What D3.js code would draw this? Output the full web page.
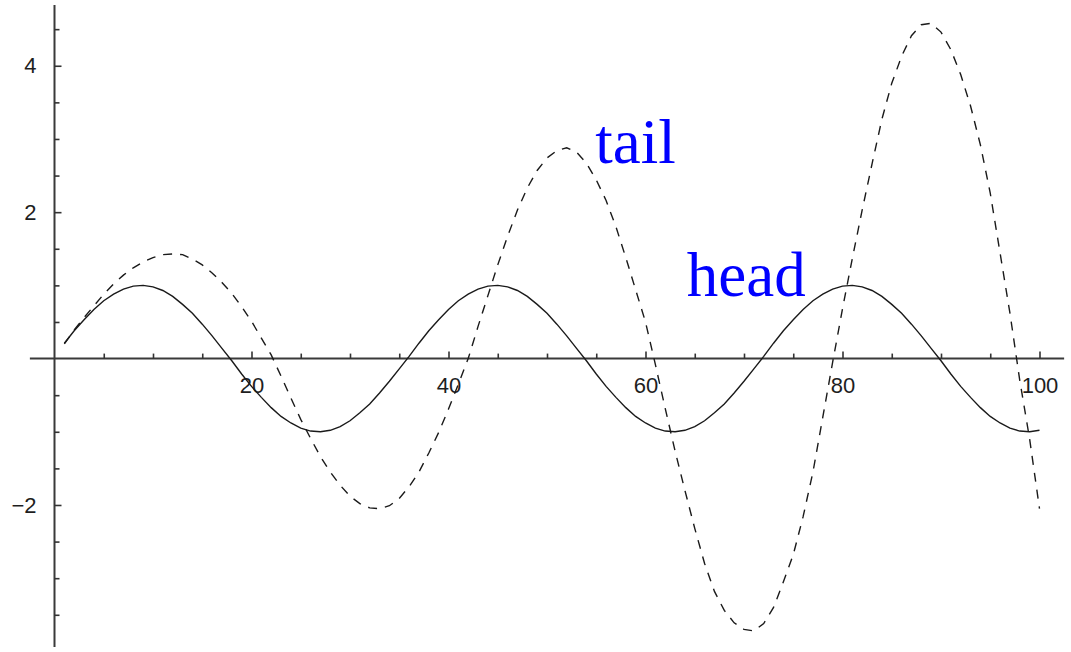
<!DOCTYPE html>
<html>
<head>
<meta charset="utf-8">
<script src="https://d3js.org/d3.v7.min.js"></script>
<style>
    body { margin: 0; background: #fff; }
    .axis text { font-family: "Liberation Sans", Arial, sans-serif; font-size: 22px; fill: #1e1e1e; }
    .axis line { stroke: #333; stroke-width: 1.6; }
    .label { font-family: "Liberation Serif", "Times New Roman", serif; font-size: 63px; fill: #0000ff; }
</style>
</head>
<body>
<div id="chart"></div>
<script>

// x sample positions (1 .. 100)
var xs = d3.range(1, 101);

// solid curve ("head")
var head = [
    0.21, 0.38, 0.53, 0.67, 0.79, 0.88, 0.95, 0.99, 1.00, 0.98, 0.93, 0.85, 0.74, 0.62, 0.47, 0.31, 0.14, -0.03,
    -0.21, -0.38, -0.53, -0.67, -0.79, -0.88, -0.95, -0.99, -1.00, -0.98, -0.93, -0.85, -0.74, -0.62, -0.47, -0.31, -0.14, 0.03,
    0.21, 0.38, 0.53, 0.67, 0.79, 0.88, 0.95, 0.99, 1.00, 0.98, 0.93, 0.85, 0.74, 0.62, 0.47, 0.31, 0.14, -0.03,
    -0.21, -0.38, -0.53, -0.67, -0.79, -0.88, -0.95, -0.99, -1.00, -0.98, -0.93, -0.85, -0.74, -0.62, -0.47, -0.31, -0.14, 0.03,
    0.21, 0.38, 0.53, 0.67, 0.79, 0.88, 0.95, 0.99, 1.00, 0.98, 0.93, 0.85, 0.74, 0.62, 0.47, 0.31, 0.14, -0.03,
    -0.21, -0.38, -0.53, -0.67, -0.79, -0.88, -0.95, -0.99, -1.00, -0.98
];

// dashed curve ("tail")
var tail = [
    0.20, 0.39, 0.56, 0.72, 0.88, 1.02, 1.14, 1.24, 1.32, 1.38,
    1.42, 1.43, 1.42, 1.36, 1.28, 1.17, 1.04, 0.89, 0.71, 0.51,
    0.28, 0.05, -0.24, -0.54, -0.83, -1.09, -1.34, -1.55, -1.73, -1.88,
    -1.98, -2.04, -2.05, -2.01, -1.91, -1.75, -1.55, -1.29, -1.01, -0.69,
    -0.35, 0.00, 0.44, 0.86, 1.28, 1.67, 2.03, 2.33, 2.57, 2.74,
    2.84, 2.88, 2.82, 2.67, 2.44, 2.16, 1.80, 1.38, 0.94, 0.50,
    -0.08, -0.68, -1.26, -1.80, -2.32, -2.80, -3.18, -3.44, -3.61, -3.70,
    -3.72, -3.62, -3.40, -3.05, -2.68, -2.16, -1.55, -0.80, -0.05, 0.68,
    1.37, 2.03, 2.66, 3.27, 3.76, 4.13, 4.41, 4.56, 4.58, 4.46,
    4.22, 3.88, 3.45, 2.92, 2.26, 1.44, 0.62, -0.30, -1.10, -2.05
];

// ticks
var xMajor = [20, 40, 60, 80, 100];
var xMinor = [5, 10, 15, 25, 30, 35, 45, 50, 55, 65, 70, 75, 85, 90, 95];
var yMajor = [-2, 2, 4];
var yMinor = [-3.5, -3, -2.5, -1.5, -1, -0.5, 0.5, 1, 1.5, 2.5, 3, 3.5, 4.5];

// axis extents (data units)
var xExtent = [-2.5, 102.5];
var yExtent = [-3.94, 4.83];

// curve labels
var labelText = ["tail", "head"];
var labelX = [54.9, 64.2];
var labelY = [2.67, 0.85];


LinePlot = function(_parentElement) {
    this.parentElement = _parentElement;
    this.initVis();
};

LinePlot.prototype.initVis = function() {
    var vis = this;

    vis.width = 1071;
    vis.height = 652;

    vis.svg = d3.select("#" + vis.parentElement).append("svg")
        .attr("width", vis.width)
        .attr("height", vis.height)
        .style("display", "block");

    vis.x = d3.scaleLinear()
        .domain([0, 100])
        .range([54.5, 1039.5]);

    vis.y = d3.scaleLinear()
        .domain(yExtent)
        .range([647, 5]);

    // axis lines
    vis.svg.append("line")
        .attr("x1", vis.x(xExtent[0]))
        .attr("x2", vis.x(xExtent[1]))
        .attr("y1", vis.y(0))
        .attr("y2", vis.y(0))
        .attr("stroke", "#3a3a3a")
        .attr("stroke-width", 2);

    vis.svg.append("line")
        .attr("x1", vis.x(0))
        .attr("x2", vis.x(0))
        .attr("y1", vis.y(yExtent[0]))
        .attr("y2", vis.y(yExtent[1]))
        .attr("stroke", "#3a3a3a")
        .attr("stroke-width", 2);

    // x ticks (pointing up, labels below)
    vis.svg.append("g")
        .attr("class", "axis")
        .attr("transform", "translate(0," + vis.y(0) + ")")
        .call(d3.axisBottom(vis.x).tickValues(xMinor).tickSize(-5).tickFormat(""))
        .select(".domain").remove();

    vis.svg.append("g")
        .attr("class", "axis")
        .attr("transform", "translate(0," + vis.y(0) + ")")
        .call(d3.axisBottom(vis.x).tickValues(xMajor).tickSize(-7).tickPadding(19))
        .select(".domain").remove();

    // y ticks (pointing right, labels left)
    vis.svg.append("g")
        .attr("class", "axis")
        .attr("transform", "translate(" + vis.x(0) + ",0)")
        .call(d3.axisLeft(vis.y).tickValues(yMinor).tickSize(-5).tickFormat(""))
        .select(".domain").remove();

    vis.svg.append("g")
        .attr("class", "axis")
        .attr("transform", "translate(" + vis.x(0) + ",0)")
        .call(d3.axisLeft(vis.y).tickValues(yMajor).tickSize(-7).tickPadding(18))
        .select(".domain").remove();

    vis.line = d3.line()
        .x(function(d) { return vis.x(d[0]); })
        .y(function(d) { return vis.y(d[1]); });

    vis.svg.append("path")
        .datum(d3.zip(xs, head))
        .attr("d", vis.line)
        .attr("fill", "none")
        .attr("stroke", "#1a1a1a")
        .attr("stroke-width", 1.4);

    vis.svg.append("path")
        .datum(d3.zip(xs, tail))
        .attr("d", vis.line)
        .attr("fill", "none")
        .attr("stroke", "#1a1a1a")
        .attr("stroke-width", 1.4)
        .attr("stroke-dasharray", "9,8");

    vis.svg.selectAll(".label")
        .data(labelText)
        .enter()
        .append("text")
        .attr("class", "label")
        .attr("x", function(d, i) { return vis.x(labelX[i]); })
        .attr("y", function(d, i) { return vis.y(labelY[i]); })
        .text(function(d) { return d; });
};

var plot = new LinePlot("chart");

</script>
</body>
</html>
